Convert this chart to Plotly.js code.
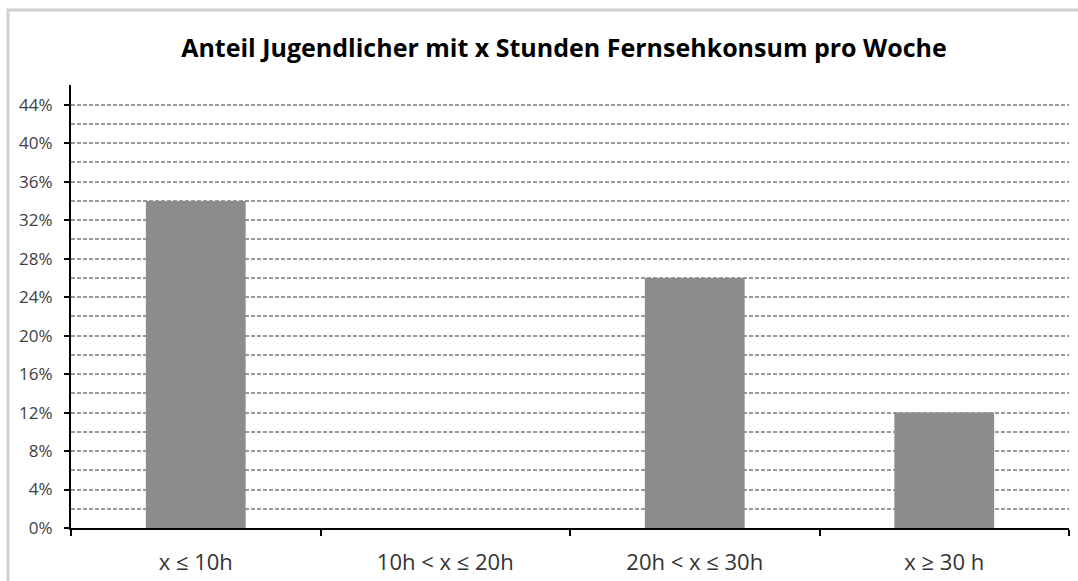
<!DOCTYPE html>
<html>
<head>
<meta charset="utf-8">
<script src="https://cdn.plot.ly/plotly-3.0.1.min.js"></script>
<style>
html,body{margin:0;padding:0;background:#fff;}
#chart{width:1078px;height:581px;}
</style>
</head>
<body>
<div id="chart"></div>
<script>
const categories = ["x ≤ 10h", "10h < x ≤ 20h", "20h < x ≤ 30h", "x ≥ 30 h"];
const shares = [0.34, 0, 0.26, 0.12];
const yTickVals = [0, 0.04, 0.08, 0.12, 0.16, 0.20, 0.24, 0.28, 0.32, 0.36, 0.40, 0.44];
const yTickText = ["0%", "4%", "8%", "12%", "16%", "20%", "24%", "28%", "32%", "36%", "40%", "44%"];
const titleText = "Anteil Jugendlicher mit x Stunden Fernsehkonsum pro Woche";

const font = "Open Sans, Noto Sans, sans-serif";

const trace = {
  type: "bar",
  x: categories,
  y: shares,
  marker: {color: "#8c8c8c", line: {width: 0}},
  hoverinfo: "x+y"
};

const layout = {
  width: 1078,
  height: 581,
  margin: {l: 71, r: 9, t: 85, b: 53},
  paper_bgcolor: "#ffffff",
  plot_bgcolor: "#ffffff",
  showlegend: false,
  bargap: 0.6,
  title: {
    text: "<b>" + titleText + "</b>",
    font: {family: font, size: 25, color: "#000000"},
    x: 564/1078, xanchor: "center",
    y: 1 - 48/581, yanchor: "middle"
  },
  xaxis: {
    type: "category",
    tickson: "boundaries",
    ticks: "outside",
    ticklen: 6,
    tickwidth: 2,
    tickcolor: "#000000",
    showline: true,
    linecolor: "#000000",
    linewidth: 2,
    showgrid: false,
    zeroline: false,
    ticklabelstandoff: 14,
    tickfont: {family: font, size: 22, color: "#333333"},
    fixedrange: true
  },
  yaxis: {
    range: [0, 0.4605],
    tickmode: "array",
    tickvals: yTickVals,
    ticktext: yTickText,
    ticks: "outside",
    ticklen: 5,
    tickwidth: 2,
    tickcolor: "#000000",
    showline: true,
    linecolor: "#000000",
    linewidth: 2,
    showgrid: true,
    gridcolor: "#9a9a9a",
    gridwidth: 2,
    griddash: "4px,2px",
    zeroline: false,
    ticklabelstandoff: 8,
    tickfont: {family: font, size: 17, color: "#404040"},
    minor: {
      tickmode: "linear",
      tick0: 0,
      dtick: 0.02,
      showgrid: true,
      gridcolor: "#9a9a9a",
      gridwidth: 2,
      griddash: "4px,2px",
      ticks: ""
    },
    fixedrange: true
  },
  shapes: [{
    type: "rect",
    xref: "paper", yref: "paper",
    x0: (8 - 71) / 998, x1: 1.2,
    y0: -0.3, y1: (528 - 10) / 443,
    line: {color: "#d0d0d0", width: 3},
    fillcolor: "rgba(0,0,0,0)",
    layer: "below"
  }]
};

Plotly.newPlot("chart", [trace], layout, {displayModeBar: false, staticPlot: true});
</script>
</body>
</html>
